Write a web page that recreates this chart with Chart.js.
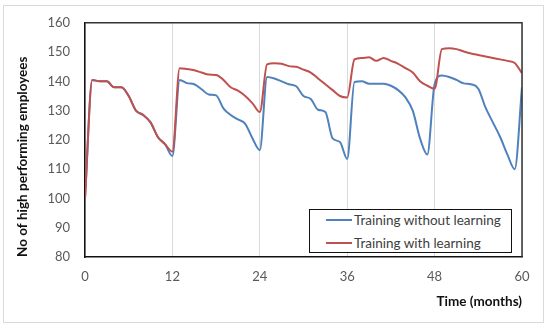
<!DOCTYPE html>
<html>
<head>
<meta charset="utf-8">
<script src="https://cdn.jsdelivr.net/npm/chart.js@4.4.0/dist/chart.umd.min.js"></script>
<style>
    body { margin: 0; background: #fff; font-family: Lato, sans-serif; }
    #wrap { position: relative; width: 550px; height: 327px; }
    #frame {
        position: absolute; left: 3px; top: 5px; width: 541px; height: 318px;
        border: 1px solid #d9d9d9; box-sizing: border-box; pointer-events: none;
    }
    #legend {
        position: absolute; left: 309px; top: 209px; width: 203px; height: 44px;
        border: 1.5px solid #111; box-sizing: border-box; background: #fff;
    }
    .leg-row { position: absolute; left: 0; height: 20px; display: flex; align-items: center; }
    .leg-line { width: 26px; height: 2px; margin-left: 16px; margin-right: 2px; }
    .leg-text { font-size: 13.5px; color: #404040; white-space: nowrap; }
</style>
</head>
<body>
<div id="wrap">
    <canvas id="chart" width="550" height="327"></canvas>
    <div id="frame"></div>
    <div id="legend"></div>
</div>
<script>
// Eixo x: meses
const months = [0, 1, 2, 3, 4, 5, 6, 7, 8, 9, 10, 11, 12,
    13, 14, 15, 16, 17, 18, 19, 20, 21, 22, 23, 24,
    25, 26, 27, 28, 29, 30, 31, 32, 33, 34, 35, 36,
    37, 38, 39, 40, 41, 42, 43, 44, 45, 46, 47, 48,
    49, 50, 51, 52, 53, 54, 55, 56, 57, 58, 59, 60];

// Training without learning (azul)
const withoutLearning = [100, 140.5, 140, 140, 138, 138, 135, 130, 128.5, 126, 121, 118.5, 114.5,
    140.5, 139.4, 139, 137.3, 135.5, 135.2, 130.8, 128.5, 127, 125.5, 120.5, 116.5,
    141.5, 141, 140, 139, 138.3, 135, 134, 130.3, 129.5, 120.5, 119.3, 113.5,
    139.8, 140, 139.2, 139.2, 139.2, 138.5, 137, 134.5, 130, 120.5, 115, 139,
    142, 141.5, 140.5, 139.3, 139, 137.5, 131, 126, 121, 115, 110, 138];

// Training with learning (vermelho)
const withLearning = [100, 140.5, 140, 140, 138, 138, 135, 130, 128.5, 126, 121, 118.5, 116,
    144.5, 144.2, 143.8, 143, 142.3, 142.2, 140.5, 138, 136.8, 135, 132.5, 129.5,
    145.8, 146.2, 146, 145.2, 145, 144, 143, 141, 139, 137, 135, 134.5,
    147.5, 148, 148.2, 147, 148, 147, 146, 144.5, 143, 140, 138.5, 137.5,
    151, 151.3, 151, 150.2, 149.5, 149, 148.5, 148, 147.5, 147, 146.3, 142.8];

const seriesLabels = ['Training without learning', 'Training with learning'];
const seriesColors = ['#4F81BD', '#C0504D'];

const xTicks = [0, 12, 24, 36, 48, 60];
const yTicks = [80, 90, 100, 110, 120, 130, 140, 150, 160];

function toPoints(values) {
    return months.map((m, i) => ({ x: m, y: values[i] }));
}

// Moldura do topo e da direita da área do gráfico
const plotFrame = {
    id: 'plotFrame',
    afterDraw(chart) {
        const { ctx, chartArea: a } = chart;
        ctx.save();
        ctx.strokeStyle = '#333';
        ctx.lineWidth = 1.5;
        ctx.beginPath();
        ctx.moveTo(a.left, a.top);
        ctx.lineTo(a.right, a.top);
        ctx.lineTo(a.right, a.bottom);
        ctx.stroke();
        ctx.restore();
    }
};

const whiteBg = {
    id: 'whiteBg',
    beforeDraw(chart) {
        const ctx = chart.ctx;
        ctx.save();
        ctx.fillStyle = '#fff';
        ctx.fillRect(0, 0, chart.width, chart.height);
        ctx.restore();
    }
};

const tickFont = { family: 'Lato', size: 13 };
const titleFont = { family: 'Lato', size: 13.5, weight: 'bold' };

const chart = new Chart(document.getElementById('chart'), {
    type: 'line',
    data: {
        datasets: [{
            label: seriesLabels[0],
            data: toPoints(withoutLearning),
            borderColor: seriesColors[0],
            backgroundColor: seriesColors[0],
            borderWidth: 2,
            pointRadius: 0,
            order: 1, // vermelho fica por cima
            cubicInterpolationMode: 'monotone'
        }, {
            label: seriesLabels[1],
            data: toPoints(withLearning),
            borderColor: seriesColors[1],
            backgroundColor: seriesColors[1],
            borderWidth: 2,
            pointRadius: 0,
            order: 0,
            cubicInterpolationMode: 'monotone'
        }]
    },
    options: {
        responsive: false,
        animation: false,
        layout: { padding: { top: 19, right: 28, left: 0, bottom: 0 } },
        plugins: {
            legend: { display: false },
            tooltip: { enabled: false }
        },
        scales: {
            x: {
                type: 'linear',
                min: 0,
                max: 60,
                afterFit: (axis) => { axis.height = 70; },
                afterBuildTicks: (axis) => { axis.ticks = xTicks.map(v => ({ value: v })); },
                grid: { color: '#d9d9d9', lineWidth: 1, drawTicks: false },
                border: { color: '#111', width: 1.5 },
                ticks: { font: tickFont, color: '#595959', padding: 12, maxRotation: 0 },
                title: {
                    display: true,
                    text: 'Time (months)',
                    align: 'end',
                    color: '#111',
                    font: titleFont,
                    padding: { top: 0, bottom: 17 }
                }
            },
            y: {
                min: 80,
                max: 160,
                afterFit: (axis) => { axis.width = 85; },
                afterBuildTicks: (axis) => { axis.ticks = yTicks.map(v => ({ value: v })); },
                grid: { display: false, drawTicks: false },
                border: { color: '#111', width: 1.5 },
                ticks: { font: tickFont, color: '#595959', padding: 15 },
                title: {
                    display: true,
                    text: 'No of high performing employees',
                    align: 'start',
                    color: '#111',
                    font: titleFont,
                    padding: { top: 15, bottom: 0 }
                }
            }
        }
    },
    plugins: [whiteBg, plotFrame]
});

// Legenda em HTML dentro da área do gráfico
const legend = document.getElementById('legend');
seriesLabels.forEach((label, i) => {
    const row = document.createElement('div');
    row.className = 'leg-row';
    row.style.top = (i === 0 ? 0 : 23) + 'px';
    row.innerHTML = `<span class="leg-line" style="background:${seriesColors[i]}"></span><span class="leg-text">${label}</span>`;
    legend.appendChild(row);
});
</script>
</body>
</html>
